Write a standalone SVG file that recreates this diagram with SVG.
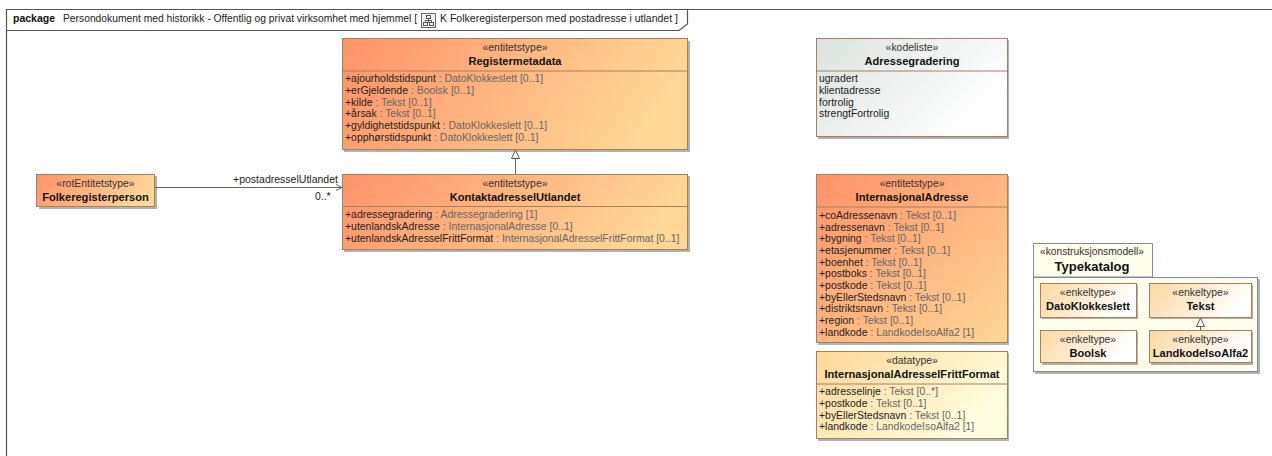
<svg xmlns="http://www.w3.org/2000/svg" width="1272" height="456" viewBox="0 0 1272 456">
<style>
text{font-family:"Liberation Sans",Arial,sans-serif;font-size:10.450px;fill:#222}
.c{text-anchor:middle}
.st{fill:#333}
.b{font-weight:bold;font-size:11.100px;fill:#111}
.g{fill:#666}
.e{fill:url(#ent);stroke:#A5805C;stroke-width:1}
.w{fill:url(#entw);stroke:#A5805C;stroke-width:1}
.k{fill:url(#kod);stroke:#A5805C;stroke-width:1}
.d{fill:url(#dat);stroke:#A5805C;stroke-width:1}
.t{fill:url(#enk);stroke:#A5805C;stroke-width:1}
.s{fill:#000;opacity:.3}
.dv{stroke:#A5805C;stroke-width:1}
.l{stroke:#666;stroke-width:1;fill:none}
.i{fill:none;stroke:#555;stroke-width:1}
</style>
<defs>
<linearGradient id="ent" x1="0" y1="0" x2="1" y2="1"><stop offset="0" stop-color="#FF9268"/><stop offset="1" stop-color="#FFD797"/></linearGradient>
<linearGradient id="entw" x1="0" y1="0" x2="1" y2="0.200"><stop offset="0" stop-color="#FF9268"/><stop offset="1" stop-color="#FFD797"/></linearGradient>
<linearGradient id="kod" x1="0" y1="0" x2="1" y2="0.500"><stop offset="0" stop-color="#DCE3DF"/><stop offset="1" stop-color="#FFFFFF"/></linearGradient>
<linearGradient id="dat" x1="0" y1="0" x2="1" y2="0.500"><stop offset="0" stop-color="#FFD797"/><stop offset="1" stop-color="#FFFFE0"/></linearGradient>
<linearGradient id="enk" x1="0" y1="0" x2="1" y2="0.300"><stop offset="0" stop-color="#FFD7A0"/><stop offset="1" stop-color="#FFFFFF"/></linearGradient>
<marker id="open" markerWidth="8" markerHeight="10" refX="7" refY="4" orient="auto" markerUnits="userSpaceOnUse"><path d="M1 1L7 4L1 7" fill="none" stroke="#666"/></marker>
<marker id="gen" markerWidth="12" markerHeight="12" refX="9.500" refY="5" orient="auto" markerUnits="userSpaceOnUse"><path d="M1 1L9.500 5L1 9Z" fill="#fff" stroke="#555"/></marker>
</defs>
<rect width="1272" height="456" fill="#fff"/>
<g id="frame">
<path d="M6.500 456V9.500H1272" fill="none" stroke="#555" stroke-width="1.200"/>
<path d="M6.500 30.500H679L687.500 24V9.500" fill="none" stroke="#555" stroke-width="1.200"/>
<text x="13" y="22" style="font-weight:bold;font-size:10.500px;fill:#111">package</text>
<text x="63" y="22" textLength="354" lengthAdjust="spacingAndGlyphs">Persondokument med historikk - Offentlig og privat virksomhet med hjemmel [</text>
<g id="frame-icon"><rect x="421.500" y="13.500" width="14" height="14" fill="#f4f4f4" stroke="#666"/><rect x="426.500" y="15.500" width="4" height="3" class="i"/><rect x="423.500" y="22.500" width="4" height="3" class="i"/><rect x="429.500" y="22.500" width="4" height="3" class="i"/><path d="M428.500 18.500V22.500M425.500 22.500V20.500H431.500V22.500" class="i"/></g>
<text x="440" y="22" textLength="238" lengthAdjust="spacingAndGlyphs">K Folkeregisterperson med postadresse i utlandet ]</text>
</g>
<g id="registermetadata">
<rect x="344" y="41" width="346" height="111" class="s"/><rect x="342.500" y="38.500" width="345" height="111" class="w"/>
<path d="M342.500 71H687.500" class="dv"/>
<text x="515" y="51" class="c st">«entitetstype»</text>
<text x="515" y="65" class="c b">Registermetadata</text>
<text x="345" y="82">+ajourholdstidspunt <tspan class="g">: DatoKlokkeslett [0..1]</tspan></text>
<text x="345" y="94">+erGjeldende <tspan class="g">: Boolsk [0..1]</tspan></text>
<text x="345" y="105.500">+kilde <tspan class="g">: Tekst [0..1]</tspan></text>
<text x="345" y="117">+årsak <tspan class="g">: Tekst [0..1]</tspan></text>
<text x="345" y="129">+gyldighetstidspunkt <tspan class="g">: DatoKlokkeslett [0..1]</tspan></text>
<text x="345" y="141">+opphørstidspunkt <tspan class="g">: DatoKlokkeslett [0..1]</tspan></text>
</g>
<g id="folkeregisterperson">
<rect x="39" y="176" width="118" height="33" class="s"/><rect x="36.500" y="174.500" width="118" height="32" class="w"/>
<text x="95.500" y="187" class="c st">«rotEntitetstype»</text>
<text x="95.500" y="201" class="c b">Folkeregisterperson</text>
</g>
<g id="kontaktadresse">
<rect x="344" y="176" width="346" height="76" class="s"/><rect x="342.500" y="174.500" width="345" height="75" class="w"/>
<path d="M342.500 206.500H687.500" class="dv"/>
<text x="515" y="187" class="c st">«entitetstype»</text>
<text x="515" y="201" class="c b">KontaktadresselUtlandet</text>
<text x="345" y="218">+adressegradering <tspan class="g">: Adressegradering [1]</tspan></text>
<text x="345" y="230">+utenlandskAdresse <tspan class="g">: InternasjonalAdresse [0..1]</tspan></text>
<text x="345" y="241.500">+utenlandskAdresselFrittFormat <tspan class="g">: InternasjonalAdresselFrittFormat [0..1]</tspan></text>
</g>
<g id="adressegradering">
<rect x="818" y="40" width="191" height="99" class="s"/><rect x="816.500" y="38.500" width="191" height="98" class="k"/>
<path d="M816.500 71H1007.500" class="dv"/>
<text x="912" y="51" class="c st">«kodeliste»</text>
<text x="912" y="65" class="c b">Adressegradering</text>
<text x="819" y="82">ugradert</text>
<text x="819" y="94">klientadresse</text>
<text x="819" y="105.500">fortrolig</text>
<text x="819" y="117">strengtFortrolig</text>
</g>
<g id="internasjonaladresse">
<rect x="818" y="176" width="191" height="169" class="s"/><rect x="816.500" y="174.500" width="191" height="168" class="e"/>
<path d="M816.500 207H1007.500" class="dv"/>
<text x="912" y="187" class="c st">«entitetstype»</text>
<text x="912" y="201" class="c b">InternasjonalAdresse</text>
<text x="819" y="219">+coAdressenavn <tspan class="g">: Tekst [0..1]</tspan></text>
<text x="819" y="231">+adressenavn <tspan class="g">: Tekst [0..1]</tspan></text>
<text x="819" y="242">+bygning <tspan class="g">: Tekst [0..1]</tspan></text>
<text x="819" y="254">+etasjenummer <tspan class="g">: Tekst [0..1]</tspan></text>
<text x="819" y="265.500">+boenhet <tspan class="g">: Tekst [0..1]</tspan></text>
<text x="819" y="277">+postboks <tspan class="g">: Tekst [0..1]</tspan></text>
<text x="819" y="289">+postkode <tspan class="g">: Tekst [0..1]</tspan></text>
<text x="819" y="300.500">+byEllerStedsnavn <tspan class="g">: Tekst [0..1]</tspan></text>
<text x="819" y="312">+distriktsnavn <tspan class="g">: Tekst [0..1]</tspan></text>
<text x="819" y="324">+region <tspan class="g">: Tekst [0..1]</tspan></text>
<text x="819" y="335.500">+landkode <tspan class="g">: LandkodeIsoAlfa2 [1]</tspan></text>
</g>
<g id="internasjonaladressefrittformat">
<rect x="818" y="353" width="191" height="88" class="s"/><rect x="816.500" y="351.500" width="191" height="87" class="d"/>
<path d="M816.500 384H1007.500" class="dv"/>
<text x="912" y="364" class="c st">«datatype»</text>
<text x="912" y="378" class="c b">InternasjonalAdresselFrittFormat</text>
<text x="819" y="395">+adresselinje <tspan class="g">: Tekst [0..*]</tspan></text>
<text x="819" y="407">+postkode <tspan class="g">: Tekst [0..1]</tspan></text>
<text x="819" y="418.500">+byEllerStedsnavn <tspan class="g">: Tekst [0..1]</tspan></text>
<text x="819" y="430">+landkode <tspan class="g">: LandkodeIsoAlfa2 [1]</tspan></text>
</g>
<g id="typekatalog">
<rect x="1035" y="279" width="225" height="95" class="s"/>
<path d="M1033.500 243.500H1152.500V277H1033.500Z" fill="#FFFDEB" stroke="#7F8AA5"/>
<rect x="1033.500" y="277.500" width="224" height="94" fill="#FFFDEB" stroke="#7F8AA5"/>
<text x="1092" y="255" class="c st" textLength="104" lengthAdjust="spacingAndGlyphs">«konstruksjonsmodell»</text>
<text x="1092" y="271" class="c" style="font-weight:bold;font-size:13px;fill:#111">Typekatalog</text>
</g>
<g id="datoklokkeslett">
<rect x="1042" y="285" width="96" height="34" class="s"/><rect x="1040.500" y="283.500" width="96" height="34" class="t"/>
<text x="1088" y="296" class="c st">«enkeltype»</text>
<text x="1088" y="310" class="c b">DatoKlokkeslett</text>
</g>
<g id="tekst">
<rect x="1151" y="285" width="102" height="34" class="s"/><rect x="1149.500" y="283.500" width="102" height="34" class="t"/>
<text x="1200.500" y="296" class="c st">«enkeltype»</text>
<text x="1200.500" y="310" class="c b">Tekst</text>
</g>
<g id="boolsk">
<rect x="1042" y="332" width="96" height="33" class="s"/><rect x="1040.500" y="330.500" width="96" height="32" class="t"/>
<text x="1088" y="343" class="c st">«enkeltype»</text>
<text x="1088" y="357" class="c b">Boolsk</text>
</g>
<g id="landkodeisoalfa2">
<rect x="1151" y="332" width="102" height="33" class="s"/><rect x="1149.500" y="330.500" width="102" height="32" class="t"/>
<text x="1200.500" y="343" class="c st">«enkeltype»</text>
<text x="1200.500" y="357" class="c b">LandkodeIsoAlfa2</text>
</g>
<g id="connectors">
<path d="M155 187.500H342" class="l" marker-end="url(#open)"/>
<path d="M515.500 174V150" class="l" marker-end="url(#gen)"/>
<path d="M1200.500 330V318" class="l" marker-end="url(#gen)"/>
<text x="233" y="183" textLength="105" lengthAdjust="spacingAndGlyphs">+postadresselUtlandet</text>
<text x="315" y="200">0..*</text>
</g>
</svg>
